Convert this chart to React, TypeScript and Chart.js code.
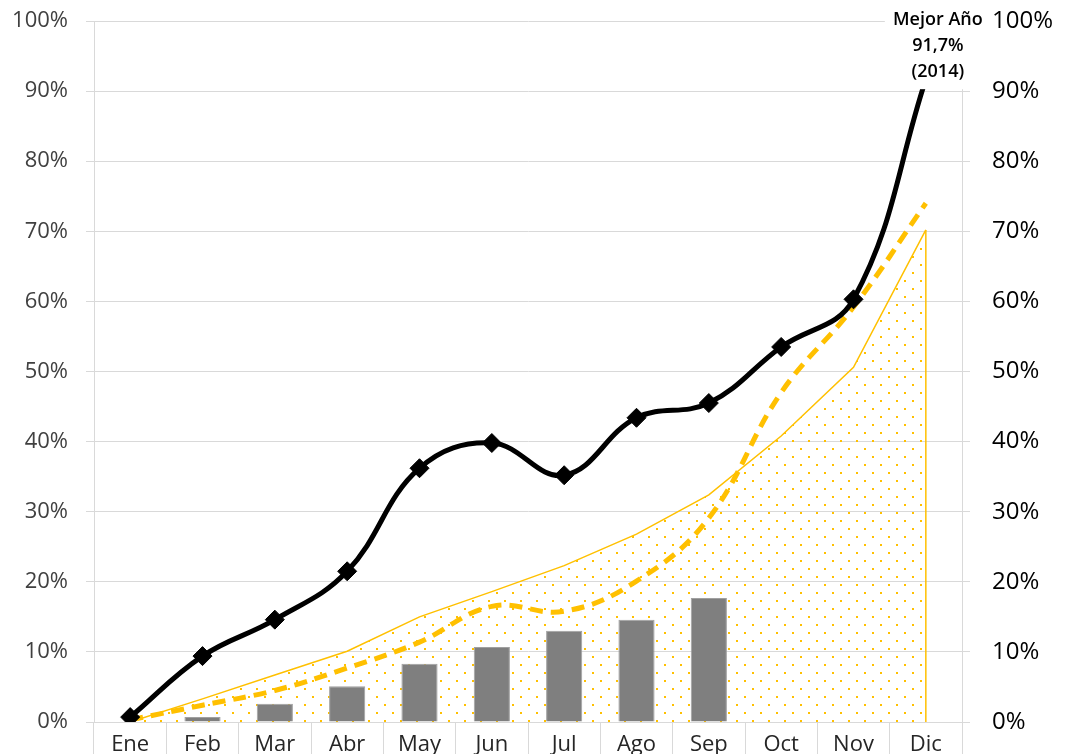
import { useEffect, useRef } from 'react';
import { Chart, registerables } from 'chart.js';

Chart.register(...registerables);

const months = ['Ene', 'Feb', 'Mar', 'Abr', 'May', 'Jun', 'Jul', 'Ago', 'Sep', 'Oct', 'Nov', 'Dic'];
const mejorAnio = [0.7, 9.4, 14.6, 21.5, 36.2, 39.8, 35.2, 43.4, 45.5, 53.5, 60.3, 91.7];
const promedio = [0.3, 2.4, 4.5, 7.7, 11.4, 16.5, 15.8, 20.1, 29.1, 47.0, 59.2, 74.0];
const area = [0, 3.3, 6.7, 10.1, 15.0, 18.6, 22.3, 26.8, 32.4, 40.8, 50.6, 70.2];
const barras = [0, 0.7, 2.6, 5.1, 8.3, 10.7, 13.0, 14.6, 17.7, null, null, null];
const yTicks = [0, 10, 20, 30, 40, 50, 60, 70, 80, 90, 100];
const labelLines = ['Mejor Año', '91,7%', '(2014)'];

const FONT = 'Open Sans';

export default function App() {
  const ref = useRef<HTMLCanvasElement>(null);

  useEffect(() => {
    document.body.style.margin = '0';
    document.body.style.overflow = 'hidden';
    const canvas = ref.current!;
    const pat = document.createElement('canvas');
    pat.width = 16;
    pat.height = 16;
    const pctx = pat.getContext('2d')!;
    pctx.fillStyle = '#ffc000';
    pctx.fillRect(0, 0, 2, 2);
    pctx.fillRect(8, 8, 2, 2);
    const pattern = canvas.getContext('2d')!.createPattern(pat, 'repeat');

    const annot = {
      id: 'annot',
      afterDatasetsDraw(chart: any) {
        const ctx = chart.ctx;
        const ys = chart.scales.y;
        const am = chart.getDatasetMeta(3);
        const last = am.data[am.data.length - 1];
        ctx.save();
        ctx.strokeStyle = '#ffc000';
        ctx.lineWidth = 1.5;
        ctx.beginPath();
        ctx.moveTo(last.x, last.y);
        ctx.lineTo(last.x, ys.getPixelForValue(0));
        ctx.stroke();
        const bm = chart.getDatasetMeta(0);
        const p = bm.data[bm.data.length - 1];
        const cx = p.x + 12;
        ctx.fillStyle = '#ffffff';
        ctx.fillRect(cx - 53, 0, 106, p.y + 10);
        ctx.fillStyle = '#000000';
        ctx.font = `600 18px "${FONT}"`;
        ctx.textAlign = 'center';
        ctx.textBaseline = 'middle';
        const offs = [-59, -33, -7];
        labelLines.forEach((t, i) => ctx.fillText(t, cx, p.y + offs[i]));
        ctx.restore();
      },
    };

    const leftFont = { family: FONT, size: 22 };
    const rightFont = { family: FONT, size: 24 };

    const chart = new Chart(canvas, {
      type: 'bar',
      data: {
        labels: months,
        datasets: [
          {
            type: 'line',
            data: mejorAnio,
            borderColor: '#000000',
            backgroundColor: '#000000',
            borderWidth: 5,
            tension: 0.4,
            pointStyle: 'rectRot',
            pointRadius: 9.5,
            pointBackgroundColor: '#000000',
            pointBorderColor: '#000000',
            pointBorderWidth: 1,
            yAxisID: 'y2',
            order: 0,
          } as any,
          {
            type: 'line',
            data: promedio,
            borderColor: '#ffc000',
            borderWidth: 5,
            borderDash: [13, 8],
            borderCapStyle: 'butt',
            tension: 0.4,
            pointRadius: 0,
            yAxisID: 'y2',
            order: 1,
          } as any,
          {
            type: 'bar',
            data: barras,
            backgroundColor: '#7f7f7f',
            borderColor: '#a0a0a0',
            borderWidth: 1,
            categoryPercentage: 1,
            barPercentage: 0.5,
            yAxisID: 'y',
            order: 2,
          } as any,
          {
            type: 'line',
            data: area,
            borderColor: '#ffc000',
            borderWidth: 1.5,
            backgroundColor: pattern as any,
            fill: 'origin',
            tension: 0,
            pointRadius: 0,
            yAxisID: 'y',
            order: 3,
          } as any,
        ],
      },
      options: {
        responsive: false,
        animation: false,
        devicePixelRatio: 1,
        layout: { padding: { top: 21, left: 0, right: 0, bottom: 0 } },
        plugins: { legend: { display: false }, tooltip: { enabled: false } },
        scales: {
          x: {
            type: 'category',
            offset: true,
            grid: { offset: true, drawOnChartArea: false, drawTicks: true, tickLength: 40, color: '#d9d9d9' },
            border: { display: true, color: '#d9d9d9' },
            ticks: { padding: -30, color: '#262626', font: leftFont, maxRotation: 0, autoSkip: false },
            afterFit: (s: any) => { s.height = 68; },
          },
          y: {
            position: 'left',
            min: 0,
            max: 100,
            afterBuildTicks: (s: any) => { s.ticks = yTicks.map((v) => ({ value: v })); },
            ticks: { padding: 18, color: '#404040', font: leftFont, callback: (v: any) => v + '%' },
            grid: { color: '#d9d9d9', tickLength: 8 },
            border: { color: '#d9d9d9' },
            afterFit: (s: any) => { s.width = 94; s.paddingTop = 0; s.paddingBottom = 0; },
          },
          y2: {
            position: 'right',
            min: 0,
            max: 100,
            afterBuildTicks: (s: any) => { s.ticks = yTicks.map((v) => ({ value: v })); },
            ticks: { padding: 22, color: '#000000', font: rightFont, callback: (v: any) => v + '%' },
            grid: { drawOnChartArea: false, color: '#d9d9d9', tickLength: 8 },
            border: { color: '#d9d9d9' },
            afterFit: (s: any) => { s.width = 108; s.paddingTop = 0; s.paddingBottom = 0; },
          },
        },
      } as any,
      plugins: [annot],
    });
    return () => chart.destroy();
  }, []);

  return <canvas ref={ref} width={1070} height={790} style={{ display: 'block', width: 1070, height: 790 }} />;
}
